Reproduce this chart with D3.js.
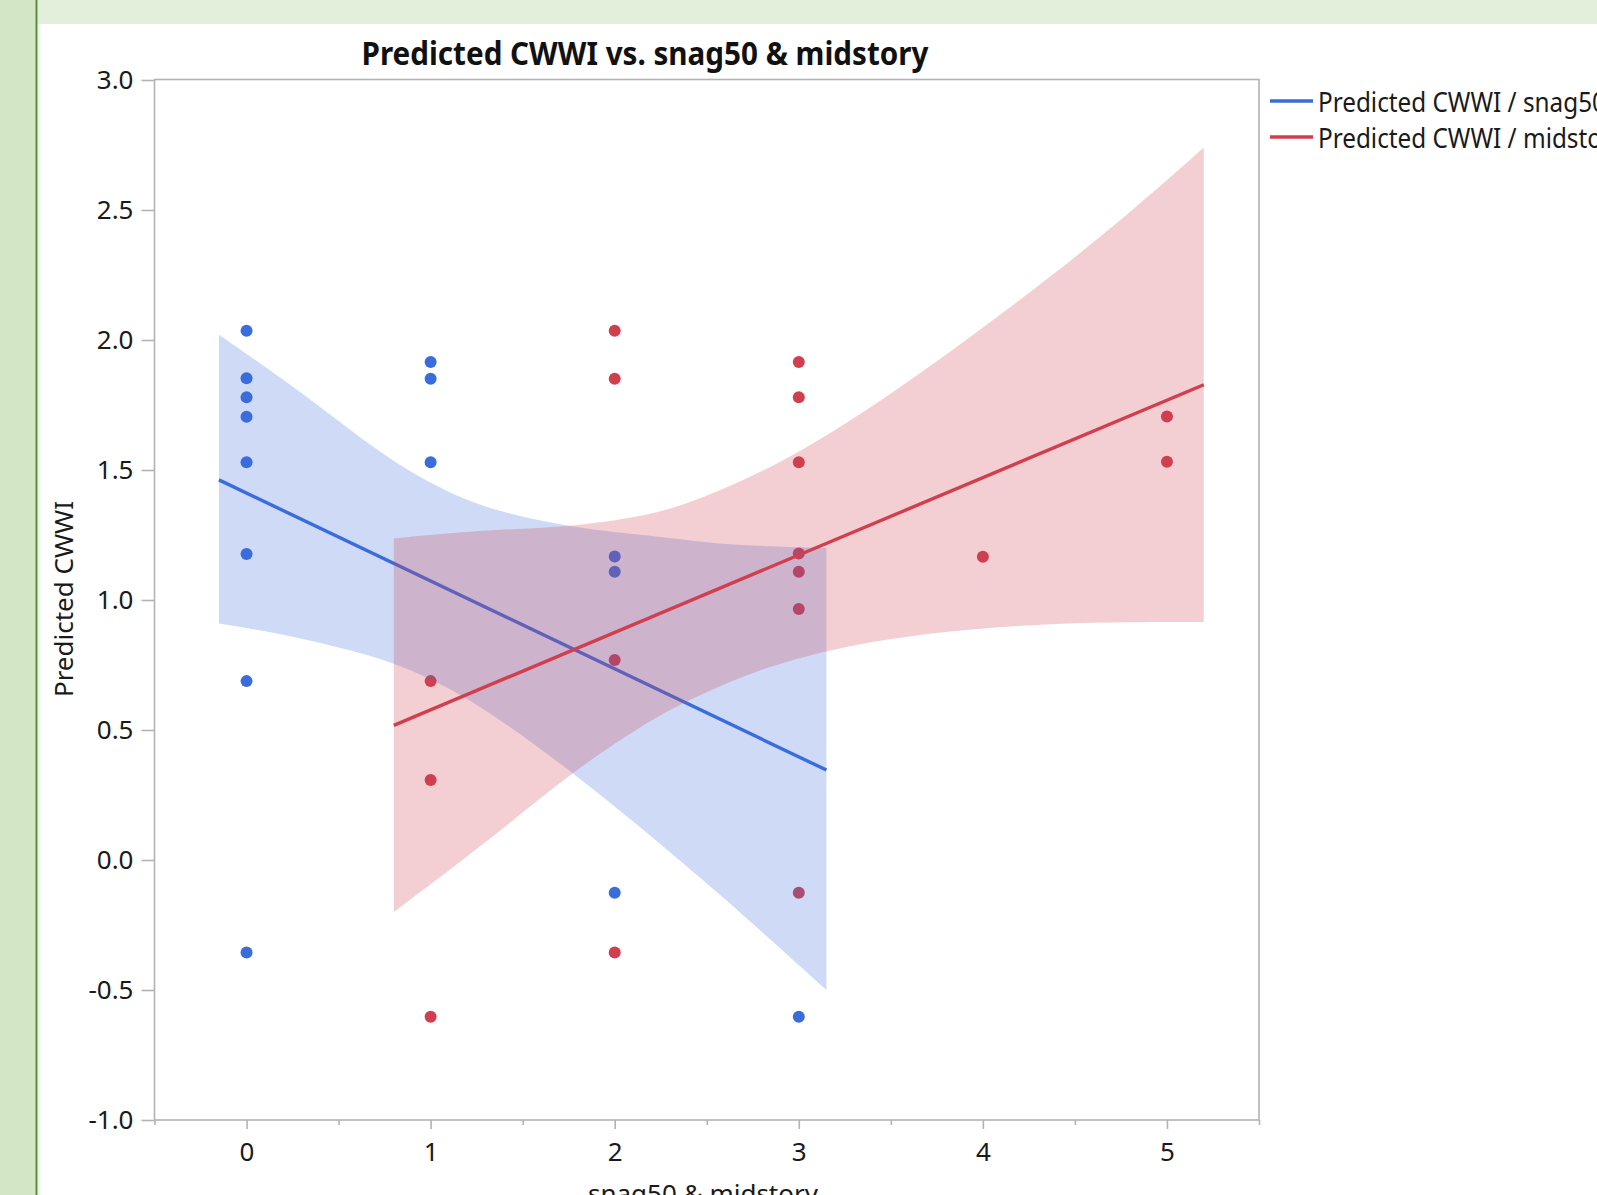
<!DOCTYPE html>
<html lang="en">
<head>
<meta charset="UTF-8">
<title>Predicted CWWI vs. snag50 & midstory</title>
<script src="https://cdn.jsdelivr.net/npm/d3@7"></script>
<style>
  body { margin: 0; background: #fff; }
  text { font-family: "Segoe UI", "Noto Sans", sans-serif; }
</style>
</head>
<body>
<svg id="chart"></svg>
<script>
// points
var snagX = [0, 0, 0, 0, 0, 0, 0, 0, 1, 1, 1, 2, 2, 2, 3];
var snagY = [2.036, 1.853, 1.780, 1.705, 1.530, 1.177, 0.688, -0.356, 1.915, 1.851, 1.530, 1.167, 1.109, -0.126, -0.603];
var midX = [1, 1, 1, 2, 2, 2, 2, 3, 3, 3, 3, 3, 3, 3, 4, 5, 5];
var midY = [0.688, 0.308, -0.603, 2.036, 1.851, 0.769, -0.356, 1.915, 1.780, 1.530, 1.179, 1.109, 0.965, -0.126, 1.166, 1.706, 1.532];

// fitted lines (end points)
var snagFitX = [-0.15, 3.15];
var snagFitY = [1.462, 0.346];
var midFitX = [0.8, 5.2];
var midFitY = [0.518, 1.828];

// confidence bands
var snagBandX = [-0.15, 0.2, 0.55, 0.8, 1.05, 1.3, 1.75, 2.15, 2.4, 2.65, 3.15];
var snagBandHi = [2.02, 1.85, 1.66, 1.53, 1.43, 1.35, 1.28, 1.25, 1.23, 1.21, 1.20];
var snagBandLo = [0.91, 0.87, 0.81, 0.76, 0.68, 0.58, 0.35, 0.12, -0.03, -0.18, -0.50];
var midBandX = [0.8, 1.3, 1.75, 2.15, 2.4, 2.7, 3.0, 3.45, 3.95, 4.4, 4.8, 5.2];
var midBandHi = [1.237, 1.27, 1.28, 1.32, 1.37, 1.46, 1.565, 1.765, 2.02, 2.26, 2.49, 2.74];
var midBandLo = [-0.20, 0.065, 0.33, 0.52, 0.615, 0.71, 0.78, 0.85, 0.89, 0.91, 0.915, 0.915];

var xTicks = [0, 1, 2, 3, 4, 5];
var xMinor = [-0.5, 0.5, 1.5, 2.5, 3.5, 4.5, 5.5];
var yTicks = [-1.0, -0.5, 0.0, 0.5, 1.0, 1.5, 2.0, 2.5, 3.0];
var legendLabels = ["Predicted CWWI / snag50", "Predicted CWWI / midstory"];

var blue = "#3b6cdc";
var red = "#d13f4f";

var width = 1597, height = 1195;
var svg = d3.select("#chart").attr("width", width).attr("height", height);

// window chrome (green frame of the host app)
svg.append("rect").attr("x", 0).attr("y", 0).attr("width", 36).attr("height", height).attr("fill", "#d3e7c7");
svg.append("rect").attr("x", 35.5).attr("y", 0).attr("width", 2.2).attr("height", height).attr("fill", "#5b8b3d");
svg.append("rect").attr("x", 37.7).attr("y", 0).attr("width", width - 37.7).attr("height", 24).attr("fill", "#e2efda");
svg.append("rect").attr("x", 37.7).attr("y", 24).attr("width", 3).attr("height", height - 24).attr("fill", "#eef6ea");

var x = d3.scaleLinear().domain([-0.5, 5.5]).range([154.5, 1259]);
var y = d3.scaleLinear().domain([-1, 3]).range([1120, 80]);

// points first, bands are drawn over them
var snagPts = snagX.map(function(v, i) { return [v, snagY[i]]; });
var midPts = midX.map(function(v, i) { return [v, midY[i]]; });

svg.append("g").selectAll("circle").data(snagPts).enter().append("circle")
    .attr("cx", function(d) { return x(d[0]); })
    .attr("cy", function(d) { return y(d[1]); })
    .attr("r", 6).attr("fill", blue);
svg.append("g").selectAll("circle").data(midPts).enter().append("circle")
    .attr("cx", function(d) { return x(d[0]); })
    .attr("cy", function(d) { return y(d[1]); })
    .attr("r", 6).attr("fill", red);

function band(xs, hi, lo) {
    return xs.map(function(v, i) { return {x: v, hi: hi[i], lo: lo[i]}; });
}
var area = d3.area()
    .x(function(d) { return x(d.x); })
    .y0(function(d) { return y(d.lo); })
    .y1(function(d) { return y(d.hi); })
    .curve(d3.curveBasis);
var line = d3.line()
    .x(function(d) { return x(d[0]); })
    .y(function(d) { return y(d[1]); });

svg.append("path").datum(band(snagBandX, snagBandHi, snagBandLo))
    .attr("d", area).attr("fill", blue).attr("fill-opacity", 0.25);
svg.append("path").datum(snagFitX.map(function(v, i) { return [v, snagFitY[i]]; }))
    .attr("d", line).attr("stroke", blue).attr("stroke-width", 3.4).attr("fill", "none");
svg.append("path").datum(band(midBandX, midBandHi, midBandLo))
    .attr("d", area).attr("fill", red).attr("fill-opacity", 0.25);
svg.append("path").datum(midFitX.map(function(v, i) { return [v, midFitY[i]]; }))
    .attr("d", line).attr("stroke", red).attr("stroke-width", 3.4).attr("fill", "none");

// frame
svg.append("rect").attr("x", 154.5).attr("y", 79.5).attr("width", 1259 - 154.5).attr("height", 1120 - 79.5)
    .attr("fill", "none").attr("stroke", "#b3b3b3").attr("stroke-width", 1.6);

// axes
var yAxis = svg.append("g").attr("transform", "translate(154.5,0)")
    .call(d3.axisLeft(y).tickValues(yTicks).tickFormat(d3.format(".1f")).tickSize(13).tickPadding(8));
var xAxis = svg.append("g").attr("transform", "translate(0,1120)")
    .call(d3.axisBottom(x).tickValues(xTicks).tickFormat(d3.format("d")).tickSize(9).tickPadding(14));
var xAxisMinor = svg.append("g").attr("transform", "translate(0,1120)")
    .call(d3.axisBottom(x).tickValues(xMinor).tickFormat("").tickSize(5));

[yAxis, xAxis, xAxisMinor].forEach(function(g) {
    g.select(".domain").remove();
    g.selectAll("line").attr("stroke", "#b3b3b3").attr("stroke-width", 1.6);
    g.selectAll("text").attr("font-family", null).style("font-size", "26px").attr("fill", "#1a1a1a");
});
yAxis.selectAll("text").text(function(d) { return d3.format(".1f")(d).replace("−", "-"); });

// title and axis labels
svg.append("text").attr("x", 645).attr("y", 65).attr("text-anchor", "middle")
    .attr("textLength", 567).attr("lengthAdjust", "spacingAndGlyphs")
    .style("font-size", "33px").style("font-weight", "bold").attr("fill", "#111")
    .text("Predicted CWWI vs. snag50 & midstory");
svg.append("text").attr("transform", "translate(73,599) rotate(-90)").attr("text-anchor", "middle")
    .style("font-size", "26px").attr("fill", "#1a1a1a").text("Predicted CWWI");
svg.append("text").attr("x", 703).attr("y", 1203).attr("text-anchor", "middle")
    .style("font-size", "26px").attr("fill", "#1a1a1a").text("snag50 & midstory");

// legend
var legend = svg.append("g");
[blue, red].forEach(function(c, i) {
    var ly = 101 + i * 36;
    legend.append("line").attr("x1", 1270).attr("x2", 1313).attr("y1", ly).attr("y2", ly)
        .attr("stroke", c).attr("stroke-width", 3.5);
    legend.append("text").attr("transform", "translate(1318," + (ly + 10.5) + ") scale(0.9,1)")
        .style("font-size", "27px").attr("fill", "#1a1a1a").text(legendLabels[i]);
});
</script>
</body>
</html>
